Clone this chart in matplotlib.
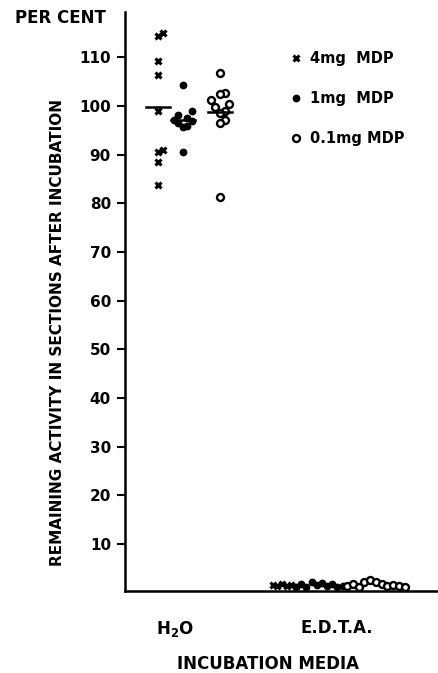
import numpy as np
import matplotlib.pyplot as plt

# remaining activity (per cent)
h2o_4mg = [115.0, 114.4, 109.2, 106.4, 99.0, 91.0, 90.5, 88.6, 83.8]
h2o_1mg = [104.3, 99.0, 98.2, 97.6, 97.2, 97.0, 96.5, 96.0, 95.6, 90.6]
h2o_01mg = [106.8, 102.7, 102.5, 101.2, 100.5, 99.8, 99.0, 98.6, 97.1, 96.5, 81.3]

edta_4mg = [1.6, 1.4, 1.8, 1.5, 1.7]
edta_1mg = [1.3, 1.9, 1.2, 2.2, 1.6, 2.0, 1.4, 1.8, 1.1, 1.5]
edta_01mg = [1.4, 1.9, 1.3, 2.3, 2.6, 2.2, 1.8, 1.5, 1.7, 1.4, 1.3]

media = ['H$_\\mathbf{2}$O', 'E.D.T.A.']
doses = ['4mg  MDP', '1mg  MDP', '0.1mg MDP']
yticks = [10, 20, 30, 40, 50, 60, 70, 80, 90, 100, 110]

plt.rcParams['font.family'] = ['DejaVu Sans']
plt.rcParams['font.weight'] = 'bold'

styles = [dict(marker='x', color='black', ms=4, mew=2.2, ls='none'),
          dict(marker='o', color='black', ms=4.6, ls='none'),
          dict(marker='o', mfc='white', mec='black', ms=5, mew=1.7, ls='none')]


def swarm(vals, centre, step=0.03, tol=1.2):
    # shift points that sit close together sideways
    vals = np.array(vals)
    xs = np.full(len(vals), centre)
    order = np.argsort(vals)
    k = 0
    for i in range(1, len(order)):
        if abs(vals[order[i]] - vals[order[i - 1]]) < tol:
            k += 1
            xs[order[i]] = centre + step * (1 if k % 2 else -1) * (((k - 1) % 4) // 2 + 1)
        else:
            k = 0
    return xs, vals


fig = plt.figure(figsize=(4.38, 6.73), dpi=100)
ax = fig.add_axes([0.285, 0.122, 0.715, 0.86])

h2o = [h2o_4mg, h2o_1mg, h2o_01mg]
edta = [edta_4mg, edta_1mg, edta_01mg]
h2o_off = [-0.16, 0.0, 0.24]
edta_span = [(-0.42, -0.30), (-0.27, 0.03), (0.06, 0.43)]

for i in range(3):
    xs, ys = swarm(h2o[i], 1 + h2o_off[i])
    ax.plot(xs, ys, label=doses[i], **styles[i])
    m = np.mean(h2o[i])
    ax.plot([1 + h2o_off[i] - 0.075, 1 + h2o_off[i] + 0.08], [m, m], color='black', lw=1.8)
    a, b = edta_span[i]
    xe = 2 + np.linspace(a, b, len(edta[i]))
    ax.plot(xe, edta[i], **styles[i])

ax.set_xlim(0.626, 2.645)
ax.set_ylim(0.4, 119.3)
ax.spines['top'].set_visible(False)
ax.spines['right'].set_visible(False)
ax.spines['left'].set_linewidth(1.8)
ax.spines['bottom'].set_linewidth(1.8)
ax.set_yticks(yticks)
ax.tick_params(axis='y', direction='out', length=6, width=1.5, labelsize=11, pad=4)
ax.set_xticks([0.95, 1.99])
ax.set_xticklabels(media, fontsize=12, fontweight='bold')
ax.tick_params(axis='x', length=0, pad=20)
for t in ax.get_yticklabels():
    t.set_fontweight('bold')

ax.set_ylabel('REMAINING ACTIVITY IN SECTIONS AFTER INCUBATION', fontsize=11, fontweight='bold')
ax.yaxis.set_label_coords(-0.19, 0.446)
fig.text(0.612, 0.014, 'INCUBATION MEDIA', fontsize=12, fontweight='bold', ha='center', va='center')
fig.text(0.034, 0.973, 'PER CENT', fontsize=12, fontweight='bold', ha='left', va='center')

leg = ax.legend(loc='upper left', bbox_to_anchor=(0.49, 0.955), frameon=False, labelspacing=1.7,
                handlelength=0.6, handletextpad=0.7, prop={'weight': 'bold', 'size': 10.5})

fig.savefig('out.png', dpi=100)
